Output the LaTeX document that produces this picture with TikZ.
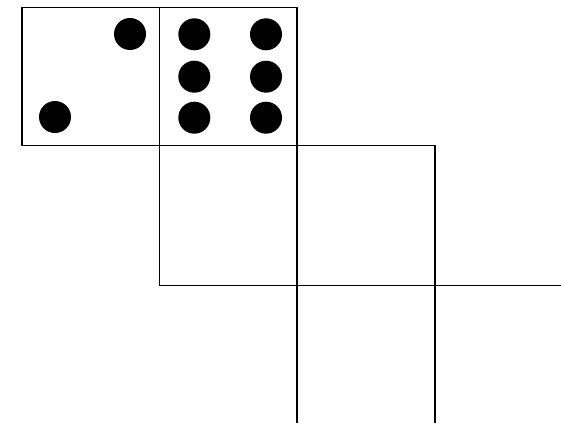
\documentclass[tikz,border=0pt]{standalone}
\begin{document}
\begin{tikzpicture}[x=1pt,y=-1pt,
  edge/.style={line width=1.6pt,black},
  pip/.style={fill=black}]
\useasboundingbox (0,0) rectangle (561,423);
% domino (top row)
\draw[edge] (22,7.5) rectangle (297,145.5);
\draw[edge] (159.5,7.5) -- (159.5,145.5);
% lower squares
\draw[edge] (297,145.5) -- (435,145.5) -- (435,423);
\draw[edge] (159.5,145.5) -- (159.5,285.5) -- (561,285.5);
\draw[edge] (297,145.5) -- (297,423);
% pips: left half (two)
\fill[pip] (130,34) circle (16);
\fill[pip] (55,117) circle (16);
% pips: right half (six)
\foreach \px in {194.3,266}
  \foreach \py in {34.3,76.7,117.7}
    \fill[pip] (\px,\py) circle (16);
\end{tikzpicture}
\end{document}
